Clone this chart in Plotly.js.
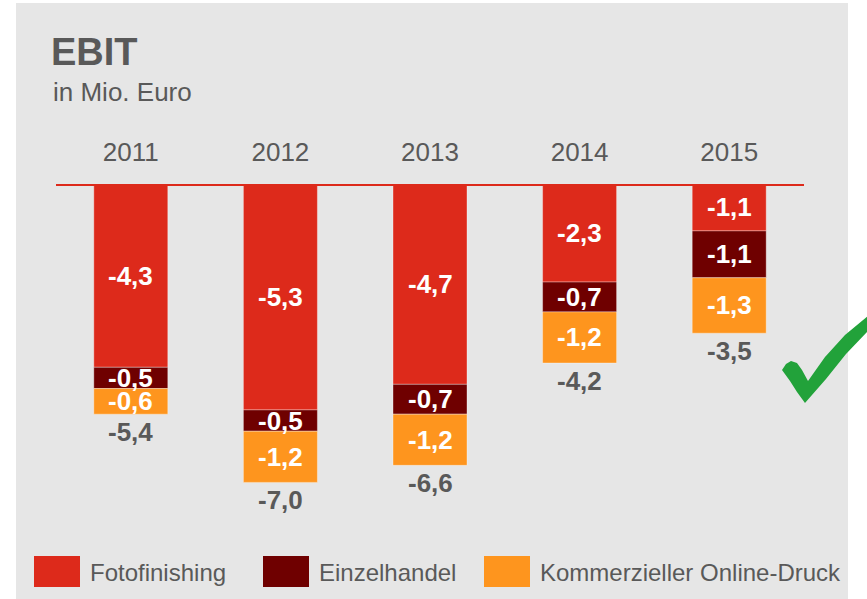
<!DOCTYPE html>
<html><head><meta charset="utf-8">
<script src="https://cdn.plot.ly/plotly-3.0.1.min.js"></script>
<style>html,body{margin:0;padding:0;background:#fff;} #chart{width:867px;height:599px;}</style>
</head><body><div id="chart"></div>
<script>
// ---- data ----
const years = ['2011', '2012', '2013', '2014', '2015'];
const fotofinishing = [-4.3, -5.3, -4.7, -2.3, -1.1];
const einzelhandel = [-0.5, -0.5, -0.7, -0.7, -1.1];
const onlineDruck = [-0.6, -1.2, -1.2, -1.2, -1.3];
const totals = [-5.4, -7.0, -6.6, -4.2, -3.5];
const seriesNames = ['Fotofinishing', 'Einzelhandel', 'Kommerzieller Online-Druck'];
const seriesColors = ['#dd2a1b', '#6f0000', '#fe951e'];
const chartTitle = 'EBIT';
const chartSubtitle = 'in Mio. Euro';

// ---- layout helpers ----
const W = 867, H = 599;
const M = {l: 56, r: 63, t: 184, b: 74};
const PW = W - M.l - M.r, PH = H - M.t - M.b;
const X = px => (px - M.l) / PW;
const Y = py => (H - M.b - py) / PH;
const FONT = 'Liberation Sans, Arial, sans-serif';
const GRAY = '#595959';
const fmt = v => v.toFixed(1).replace('.', ',');

const series = [fotofinishing, einzelhandel, onlineDruck];
const traces = series.map((vals, s) => ({
  type: 'bar', x: years, y: vals, name: seriesNames[s],
  marker: {color: seriesColors[s], line: {color: 'rgba(255,255,255,0.35)', width: 1}},
  hoverinfo: 'x+y', showlegend: false
}));

const annotations = [];
years.forEach((yr, i) => {
  let cum = 0;
  series.forEach(vals => {
    const v = vals[i];
    annotations.push({x: i, y: cum + v / 2, xref: 'x', yref: 'y', text: '<b>' + fmt(v) + '</b>',
      showarrow: false, font: {family: FONT, size: 26, color: '#ffffff'}, yanchor: 'middle'});
    cum += v;
  });
  annotations.push({x: i, y: totals[i], xref: 'x', yref: 'y', text: '<b>' + fmt(totals[i]) + '</b>',
    showarrow: false, yshift: -18, font: {family: FONT, size: 26, color: GRAY}, yanchor: 'middle'});
});

annotations.push({xref: 'paper', yref: 'paper', x: X(51), y: Y(92), xanchor: 'left', yanchor: 'middle',
  text: chartSubtitle, showarrow: false, font: {family: FONT, size: 26, color: GRAY}});

const shapes = [
  {type: 'rect', xref: 'paper', yref: 'paper', x0: X(16), x1: X(848), y0: Y(3), y1: Y(600),
   fillcolor: '#e6e6e6', line: {width: 0}, layer: 'below'},
  {type: 'line', xref: 'paper', yref: 'y', x0: 0, x1: 1, y0: 0, y1: 0,
   line: {color: '#dd2a1b', width: 4}, layer: 'above'}
];

// custom legend
const legendSwatchX = [34, 263, 484];
seriesNames.forEach((nm, s) => {
  const x0 = legendSwatchX[s];
  shapes.push({type: 'rect', xref: 'paper', yref: 'paper', x0: X(x0), x1: X(x0 + 46), y0: Y(587), y1: Y(556),
    fillcolor: seriesColors[s], line: {width: 0}});
  annotations.push({xref: 'paper', yref: 'paper', x: X(x0 + 54), y: Y(572), xanchor: 'left', yanchor: 'middle',
    text: nm, showarrow: false, font: {family: FONT, size: 24, color: GRAY}});
});

// green check mark (decoration)
const chk = [[782,370],[786,364],[791,361],[797,363],[802,370],[808,381],[825,357],[845,335],[868,316],[868,331],[846,354],[826,379],[805,403],[797,392],[790,381]];
let path = 'M ' + chk.map(p => X(p[0]).toFixed(5) + ',' + Y(p[1]).toFixed(5)).join(' L ') + ' Z';
shapes.push({type: 'path', xref: 'paper', yref: 'paper', path: path, fillcolor: '#22a23a', line: {width: 0}});

const layout = {
  width: W, height: H, margin: M,
  paper_bgcolor: '#ffffff', plot_bgcolor: 'rgba(0,0,0,0)',
  barmode: 'relative', bargap: 1 - 74 / (PW / 5),
  title: {text: '<b>' + chartTitle + '</b>', x: 51 / W, xanchor: 'left', xref: 'container',
    y: 1 - 52 / H, yanchor: 'middle', font: {family: FONT, size: 38, color: GRAY}},
  xaxis: {type: 'category', range: [-0.5, 4.5], side: 'top', showline: false, showgrid: false, zeroline: false, ticks: '',
    tickfont: {family: FONT, size: 26, color: GRAY}, ticklabelstandoff: 17, fixedrange: true},
  yaxis: {range: [-8.0, 0], showgrid: false, zeroline: false, showticklabels: false, ticks: '', fixedrange: true},
  showlegend: false, annotations: annotations, shapes: shapes
};
Plotly.newPlot('chart', traces, layout, {displayModeBar: false, staticPlot: true});
</script></body></html>
